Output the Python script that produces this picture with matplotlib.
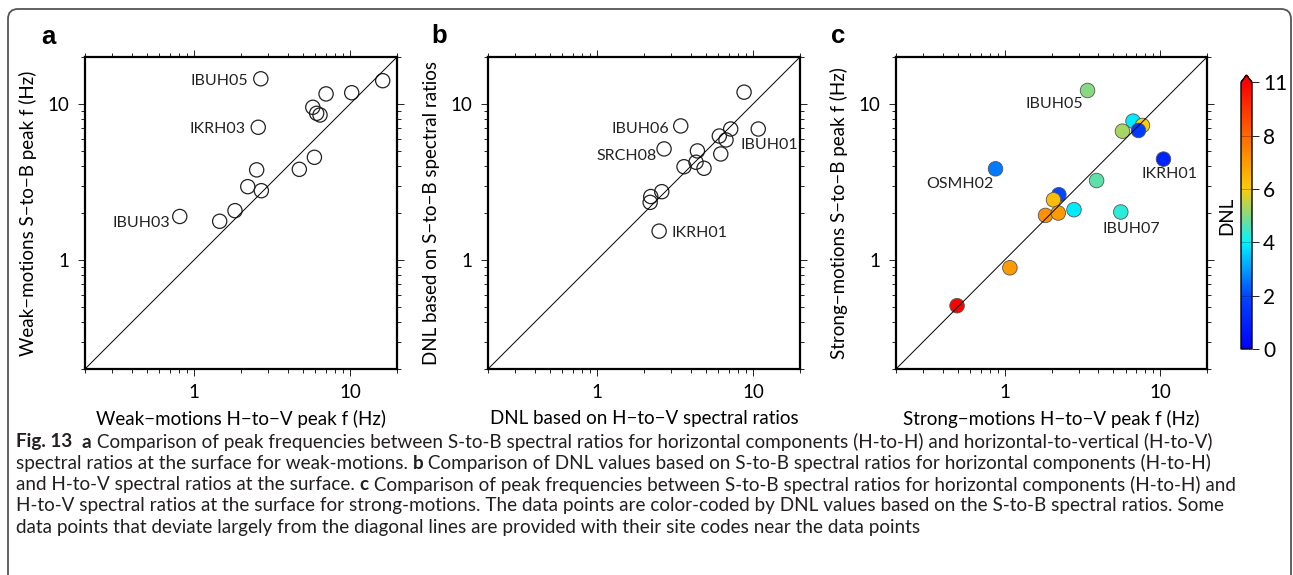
import numpy as np
import matplotlib
matplotlib.use('Agg')
import matplotlib.pyplot as plt
from matplotlib.colors import LinearSegmentedColormap, Normalize
from matplotlib.patches import FancyBboxPatch
from matplotlib.transforms import IdentityTransform
from matplotlib.ticker import FixedLocator, LogLocator, NullFormatter

plt.rcParams['font.family'] = ['Lato', 'DejaVu Sans']

# (a) weak motions: H-to-V peak f vs S-to-B peak f
weak_hv = [2.68, 16.2, 7.02, 10.25, 5.77, 6.11, 6.42, 2.58, 5.91, 4.73, 2.52, 2.21, 2.70, 1.83, 1.46, 0.81]
weak_sb = [14.5, 14.1, 11.6, 11.8, 9.52, 8.71, 8.50, 7.09, 4.55, 3.81, 3.78, 2.95, 2.78, 2.07, 1.77, 1.90]
weak_site = ['IBUH05', '', '', '', '', '', '', 'IKRH03', '', '', '', '', '', '', '', 'IBUH03']

# (b) DNL from H-to-V vs DNL from S-to-B
dnl_hv = [8.76, 3.44, 10.8, 7.19, 6.08, 6.71, 2.69, 4.40, 6.21, 4.31, 3.61, 4.85, 2.60, 2.21, 2.19, 2.50]
dnl_sb = [11.9, 7.23, 6.91, 6.91, 6.23, 5.88, 5.15, 5.00, 4.78, 4.23, 3.96, 3.87, 2.74, 2.55, 2.34, 1.53]
dnl_site = ['', 'IBUH06', 'IBUH01', '', '', '', 'SRCH08', '', '', '', '', '', '', '', '', 'IKRH01']

# (c) strong motions, coloured by DNL
strong_hv = [3.41, 6.69, 7.69, 5.72, 7.25, 10.5, 0.873, 3.90, 2.23, 2.06, 2.79, 1.83, 2.21, 5.58, 1.08, 0.494]
strong_sb = [12.2, 7.76, 7.28, 6.69, 6.76, 4.43, 3.84, 3.23, 2.62, 2.43, 2.10, 1.93, 2.00, 2.03, 0.891, 0.509]
strong_dnl = [5.0, 3.9, 6.0, 5.3, 1.7, 1.0, 2.6, 4.7, 2.0, 6.3, 3.9, 7.2, 7.0, 4.3, 7.0, 10.0]
strong_site = ['IBUH05', '', '', '', '', 'IKRH01', 'OSMH02', '', '', '', '', '', '', 'IBUH07', '', '']

cbar_ticks = [0, 2, 4, 6, 8, 10]
cbar_ticklabels = ['0', '2', '4', '6', '8', '11']

# label offsets in points (dx, dy, ha)
label_pos = {
    'a': {'IBUH05': (-9, -1.5, 'right'), 'IKRH03': (-9, -1.2, 'right'), 'IBUH03': (-7, -4.5, 'right')},
    'b': {'IBUH06': (-8, -2, 'right'), 'SRCH08': (-5, -5, 'right'),
          'IBUH01': (7.7, -11.5, 'center'), 'IKRH01': (8.6, -1.4, 'left')},
    'c': {'IBUH05': (-3.4, -10, 'right'), 'OSMH02': (-1.7, -11.3, 'right'),
          'IKRH01': (4.3, -11, 'center'), 'IBUH07': (7.6, -12.5, 'center')},
}

W, H = 1293, 575
fig = plt.figure(figsize=(W / 100, H / 100), dpi=100)
fig.patch.set_facecolor('white')

# rounded frame round the whole figure
frame = FancyBboxPatch((8, -30), 1283, H - 9 + 30, boxstyle='round,pad=0,rounding_size=10',
                       transform=IdentityTransform(), fill=False, lw=1.3, ec='#555555')
fig.patches.append(frame)

cmap = LinearSegmentedColormap.from_list('dnl', [
    (0.0, (0, 0, 1)),
    (0.2, (0, 0.28, 1)),
    (0.4, (0, 0.96, 1)),
    (0.5, (0.52, 0.85, 0.52)),
    (0.6, (0.98, 0.80, 0.04)),
    (0.7, (1, 0.61, 0)),
    (0.8, (1, 0.41, 0)),
    (1.0, (1, 0, 0)),
])
norm = Normalize(0, 10)


def px_axes(left, right, top, bottom):
    return [left / W, 1 - bottom / H, (right - left) / W, (bottom - top) / H]


def setup(ax, xlabel, ylabel):
    ax.set_xscale('log')
    ax.set_yscale('log')
    ax.set_xlim(0.2, 20)
    ax.set_ylim(0.2, 20)
    for a in (ax.xaxis, ax.yaxis):
        a.set_major_locator(FixedLocator([1, 10]))
        a.set_major_formatter(matplotlib.ticker.FixedFormatter(['1', '10']))
        a.set_minor_locator(LogLocator(base=10, subs=np.arange(2, 10)))
        a.set_minor_formatter(NullFormatter())
    ax.tick_params(which='both', direction='out', top=True, right=True, width=0.7, color='#222222')
    ax.tick_params(which='major', length=5, labelsize=13.5, pad=6)
    ax.tick_params(which='minor', length=3)
    for s in ax.spines.values():
        s.set_linewidth(1.6)
    ax.plot([0.2, 20], [0.2, 20], color='black', lw=0.7, zorder=5)
    ax.set_xlabel(xlabel, fontsize=13.5, labelpad=6)
    ax.set_ylabel(ylabel, fontsize=13.5, labelpad=8)


def annotate(ax, xs, ys, sites, panel):
    for x, y, s in zip(xs, ys, sites):
        if not s:
            continue
        dx, dy, ha = label_pos[panel][s]
        ax.annotate(s, (x, y), xytext=(dx, dy), textcoords='offset points',
                    ha=ha, va='center', fontsize=11.5, color='#222222', zorder=6)


ax_a = fig.add_axes(px_axes(85, 397, 57, 369))
setup(ax_a, 'Weak\u2212motions H\u2212to\u2212V peak f (Hz)', 'Weak\u2212motions S\u2212to\u2212B peak f (Hz)')
ax_a.scatter(weak_hv, weak_sb, s=105, facecolors='none', edgecolors='#222222', linewidths=0.9, zorder=4)
annotate(ax_a, weak_hv, weak_sb, weak_site, 'a')

ax_b = fig.add_axes(px_axes(488, 800, 57, 369))
setup(ax_b, 'DNL based on H\u2212to\u2212V spectral ratios', 'DNL based on S\u2212to\u2212B spectral ratios')
ax_b.scatter(dnl_hv, dnl_sb, s=105, facecolors='none', edgecolors='#222222', linewidths=0.9, zorder=4)
annotate(ax_b, dnl_hv, dnl_sb, dnl_site, 'b')

ax_c = fig.add_axes(px_axes(896, 1207, 57, 369))
setup(ax_c, 'Strong\u2212motions H\u2212to\u2212V peak f (Hz)', 'Strong\u2212motions S\u2212to\u2212B peak f (Hz)')
sc = ax_c.scatter(strong_hv, strong_sb, c=strong_dnl, cmap=cmap, norm=norm, s=110,
                  edgecolors='#555555', linewidths=0.6, zorder=4)
annotate(ax_c, strong_hv, strong_sb, strong_site, 'c')

cax = fig.add_axes(px_axes(1241, 1252, 75, 349))
cb = fig.colorbar(sc, cax=cax, extend='max', extendfrac=0.027)
cb.set_ticks(cbar_ticks, labels=cbar_ticklabels)
cb.ax.tick_params(length=5, width=0.7, labelsize=15, pad=3, color='#222222')
cb.outline.set_linewidth(1.0)
for t in cbar_ticks[1:-1]:
    cax.axhline(t, color='#00000055', lw=0.6)
cb.ax.yaxis.set_label_position('left')
cb.set_label('DNL', fontsize=13.5, labelpad=4)

for letter, (x, y) in {'a': (48, 37), 'b': (439, 36), 'c': (838, 36)}.items():
    fig.text(x / W, 1 - y / H, letter, fontsize=18.5, fontweight='bold', family='Liberation Sans',
             ha='center', va='center')

# caption, bold runs pieced together along each line
caption = [
    [('Fig. 13', True), ('  ', False), ('a', True),
     (' Comparison of peak frequencies between S-to-B spectral ratios for horizontal components (H-to-H) and horizontal-to-vertical (H-to-V)', False)],
    [('spectral ratios at the surface for weak-motions. ', False), ('b', True),
     (' Comparison of DNL values based on S-to-B spectral ratios for horizontal components (H-to-H)', False)],
    [('and H-to-V spectral ratios at the surface. ', False), ('c', True),
     (' Comparison of peak frequencies between S-to-B spectral ratios for horizontal components (H-to-H) and', False)],
    [('H-to-V spectral ratios at the surface for strong-motions. The data points are color-coded by DNL values based on the S-to-B spectral ratios. Some', False)],
    [('data points that deviate largely from the diagonal lines are provided with their site codes near the data points', False)],
]
renderer = fig.canvas.get_renderer()
y0 = 442
for i, line in enumerate(caption):
    x = 16
    y = y0 + i * 21.3
    for txt, bold in line:
        t = fig.text(x / W, 1 - y / H, txt, fontsize=13.6, fontweight='bold' if bold else 'normal',
                     color='#231f20', ha='left', va='center')
        bb = t.get_window_extent(renderer)
        x += bb.width

fig.savefig('out.png', dpi=100)
